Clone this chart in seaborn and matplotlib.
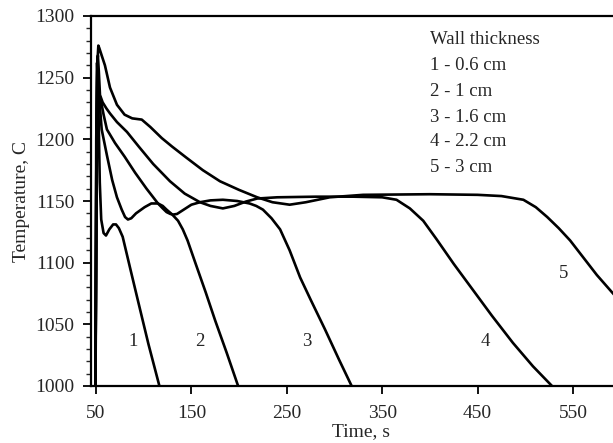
import matplotlib
matplotlib.use("Agg")
import matplotlib.pyplot as plt
from matplotlib.ticker import MultipleLocator
import numpy as np
import pandas as pd
import seaborn as sns

# ---- data ----
t1 = [49.5, 50.5, 51.2, 52.5, 54, 55.5, 58, 60.5, 64, 68, 71, 74, 78, 86, 95, 105, 116.5]
T1 = [1000, 1200, 1262, 1230, 1165, 1135, 1124, 1122, 1127, 1131, 1131, 1128, 1121, 1095, 1066, 1034, 1000]

t2 = [49.5, 50.5, 51.5, 52.5, 54, 56, 61.5, 67, 72, 77, 80.5, 83.5, 87, 92, 101, 108, 115, 120, 124,
      130, 136, 141, 146, 155, 165, 175, 187, 199]
T2 = [1000, 1180, 1232, 1236, 1228, 1208, 1187, 1167, 1153, 1143, 1137, 1135, 1136, 1140, 1145, 1148,
      1148, 1146, 1143, 1139, 1134, 1127, 1118, 1098, 1076, 1053, 1027, 1000]

t3 = [49.5, 51, 52, 53, 55, 58, 61.5, 70, 80, 91, 103, 115, 120, 124, 128, 131, 135, 140, 150, 159,
      170, 183, 198, 211, 218, 225, 234, 243, 253, 264, 275, 290, 305, 318]
T3 = [1000, 1200, 1232, 1238, 1232, 1220, 1208, 1197, 1186, 1173, 1160, 1148, 1144, 1141, 1139.5, 1139,
      1139.5, 1142, 1147, 1149, 1150.5, 1151, 1150, 1148, 1146, 1143, 1136, 1127, 1110, 1088, 1070,
      1046, 1021, 1000]

t4 = [49.5, 50.3, 51.3, 52, 53, 54.2, 57, 61, 64.7, 72, 82.5, 95, 110, 127.6, 143, 159, 170, 183, 195,
      207, 219, 240, 280, 320, 350, 365, 379, 393, 407, 425, 445, 465, 487, 508, 528]
T4 = [1000, 1200, 1262, 1268, 1255, 1236, 1230, 1225, 1221, 1214, 1206, 1194, 1180, 1166, 1156, 1149,
      1146, 1144, 1146, 1149.5, 1152, 1153, 1153.5, 1153.5, 1153, 1151, 1144, 1134, 1119, 1099, 1078,
      1057, 1035, 1016, 1000]

t5 = [49.5, 50.5, 51.5, 52.5, 53.5, 56, 59.4, 64.7, 72, 80, 88, 98, 107, 119, 130, 145, 162, 180, 200,
      219, 235, 253, 270, 295, 330, 400, 450, 475, 498, 511, 523, 535, 547, 560, 575, 592, 600]
T5 = [1000, 1200, 1262, 1276, 1274, 1268, 1260, 1242, 1228, 1220, 1217, 1216, 1210, 1201, 1194, 1185,
      1175, 1166, 1159, 1153, 1149, 1147, 1149, 1153, 1155, 1155.5, 1155, 1154, 1151, 1145, 1137, 1128,
      1118, 1105, 1090, 1075, 1068]

curve_ids = ["1", "2", "3", "4", "5"]
legend_lines = ["Wall thickness", "1 - 0.6 cm", "2 - 1 cm", "3 - 1.6 cm", "4 - 2.2 cm", "5 - 3 cm"]
xticks = [50, 150, 250, 350, 450, 550]
yticks = [1000, 1050, 1100, 1150, 1200, 1250, 1300]
label_pos_t = [88.8, 159, 271, 458, 540]
label_pos_T = [1036, 1036, 1036, 1036, 1091]

series = [(t1, T1), (t2, T2), (t3, T3), (t4, T4), (t5, T5)]
df = pd.concat(
    [pd.DataFrame({"time": t, "temp": T, "curve": cid}) for (t, T), cid in zip(series, curve_ids)],
    ignore_index=True,
)

# ---- style ----
sns.set_style("ticks")
plt.rcParams["font.family"] = ["Liberation Serif", "DejaVu Serif"]
plt.rcParams["axes.linewidth"] = 1.5

W, H = 613, 443
fig = plt.figure(figsize=(W / 100, H / 100), dpi=100)
fig.patch.set_facecolor("white")

left_px, right_px, top_px, bottom_px = 91, 620.7, 16, 386
ax = fig.add_axes([left_px / W, (H - bottom_px) / H, (right_px - left_px) / W, (bottom_px - top_px) / H])

sns.lineplot(
    data=df, x="time", y="temp", hue="curve", units="curve", estimator=None, sort=False,
    palette={c: "black" for c in curve_ids}, linewidth=1.9, legend=False, ax=ax,
)

ax.set_xlim(44.8, 600)
ax.set_ylim(1000, 1300)
ax.set_xticks(xticks)
ax.set_yticks(yticks)
ax.yaxis.set_minor_locator(MultipleLocator(10))
ax.tick_params(axis="both", which="major", direction="out", length=6, width=1.3,
               labelsize=14, pad=6, color="black")
ax.tick_params(axis="x", which="major", pad=8)
ax.tick_params(axis="y", which="minor", direction="out", length=3.5, width=1.0)
for s in ax.spines.values():
    s.set_color("black")
    s.set_linewidth(1.6)

ax.set_xlabel("Time, s", fontsize=14)
ax.set_ylabel("Temperature, C", fontsize=14)
ax.xaxis.set_label_coords((361 - left_px) / (right_px - left_px), (bottom_px - 423) / (bottom_px - top_px))
ax.yaxis.set_label_coords((30 - left_px) / (right_px - left_px), (bottom_px - 201) / (bottom_px - top_px))

for lab, tx, ty in zip(curve_ids, label_pos_t, label_pos_T):
    ax.text(tx, ty, lab, fontsize=13.5, ha="center", va="center")

legend_y_px = [40, 66, 91, 117, 142, 167]
for line, ypx in zip(legend_lines, legend_y_px):
    fig.text(430 / W, 1 - ypx / H, line, fontsize=13.5, ha="left", va="center")

ax.set_facecolor("white")
fig.savefig("out.png", dpi=100, facecolor="white")
